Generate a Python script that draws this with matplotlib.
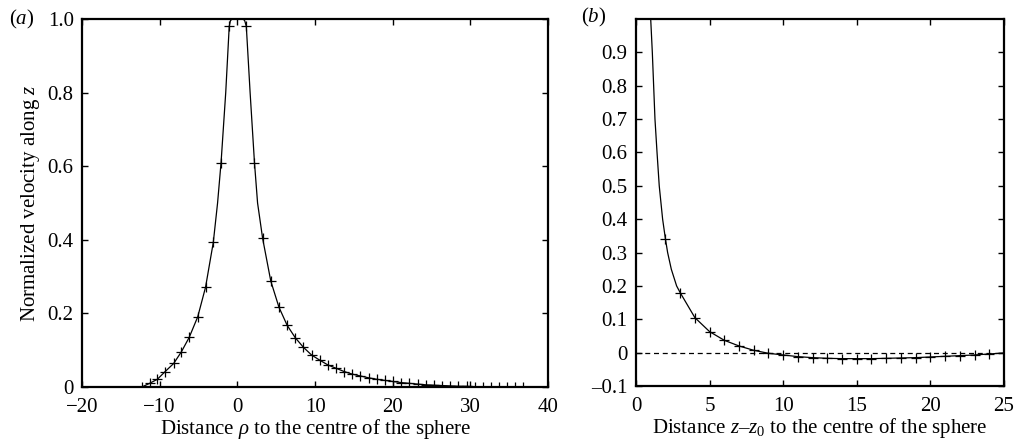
import numpy as np
import matplotlib
matplotlib.use("Agg")
import matplotlib.pyplot as plt

plt.rcParams['font.family'] = ['Liberation Serif', 'DejaVu Serif']
plt.rcParams['mathtext.fontset'] = 'custom'
plt.rcParams['mathtext.rm'] = 'Liberation Serif'
plt.rcParams['mathtext.it'] = 'Liberation Serif:italic'
plt.rcParams['axes.unicode_minus'] = True

# --- panel (a): velocity vs rho ---
rho_mark = [-12.3, -11.3, -10.3, -9.3, -8.2, -7.2, -6.2, -5.1, -4.1, -3.1, -2.1, -1.05,
            1.15, 2.2, 3.25, 4.3, 5.35, 6.4, 7.45, 8.5, 9.55, 10.6, 11.65, 12.7, 13.75,
            14.8, 15.85, 16.9, 17.95, 19.0, 20.05, 21.1, 22.15, 23.2, 24.25, 25.3,
            26.35, 27.4, 28.45, 29.5, 30.55, 31.6, 32.65, 33.7, 34.75, 35.8, 36.8]
vel_mark = [0.0, 0.010, 0.021, 0.042, 0.064, 0.096, 0.135, 0.191, 0.271, 0.393, 0.61, 0.98,
            0.98, 0.61, 0.404, 0.288, 0.217, 0.168, 0.134, 0.108, 0.087, 0.073, 0.060,
            0.051, 0.042, 0.035, 0.030, 0.025, 0.021, 0.018, 0.015, 0.012, 0.010, 0.008,
            0.006, 0.005, 0.004, 0.003, 0.002, 0.002, 0.001, 0.001, 0.0005, 0.0, 0.0,
            0.0, 0.0]

rho_curve = [-12.3, -11.3, -10.3, -9.3, -8.2, -7.2, -6.2, -5.1, -4.1, -3.1, -2.55, -2.1,
             -1.5, -1.05, -0.9, -0.7, 0.0, 0.75, 0.95, 1.15, 1.64, 2.2, 2.6, 3.25, 4.3,
             5.35, 6.4, 7.45, 8.5, 9.55, 10.6, 11.65, 12.7, 13.75, 14.8, 15.85, 16.9,
             17.95, 19.0, 20.05, 21.1, 22.15, 23.2, 24.25, 25.3, 26.35, 27.4, 28.45,
             29.5, 30.55, 31.6, 32.65, 33.7, 34.75, 35.8, 36.8]
vel_curve = [0.0, 0.010, 0.021, 0.042, 0.064, 0.096, 0.135, 0.191, 0.271, 0.393, 0.5, 0.61,
             0.8, 0.98, 0.995, 1.0, 1.0, 1.0, 0.995, 0.98, 0.8, 0.61, 0.5, 0.404, 0.288,
             0.217, 0.168, 0.134, 0.108, 0.087, 0.073, 0.060, 0.051, 0.042, 0.035, 0.030,
             0.025, 0.021, 0.018, 0.015, 0.012, 0.010, 0.008, 0.006, 0.005, 0.004, 0.003,
             0.002, 0.002, 0.001, 0.001, 0.0005, 0.0, 0.0, 0.0, 0.0]

# --- panel (b): velocity vs z - z0 ---
z_mark = list(range(2, 26))
vz_mark = [0.341, 0.18, 0.105, 0.063, 0.037, 0.020, 0.007, -0.002, -0.007, -0.012,
           -0.015, -0.017, -0.018, -0.018, -0.018, -0.017, -0.016, -0.015, -0.013,
           -0.011, -0.009, -0.007, -0.004, -0.001]

z_curve = [1.0, 1.11, 1.2, 1.29, 1.43, 1.58, 1.81, 2.0, 2.15, 2.4, 2.76] + list(range(3, 26))
vz_curve = [1.0, 0.9, 0.8, 0.7, 0.6, 0.5, 0.4, 0.341, 0.3, 0.25, 0.2] + vz_mark[1:]

fig = plt.figure(figsize=(10.14, 4.42), dpi=100)
ax1 = fig.add_axes([0.0809, 0.1244, 0.4596, 0.8326])
ax2 = fig.add_axes([0.6272, 0.1267, 0.3629, 0.8303])

fs = 15
for ax in (ax1, ax2):
    ax.tick_params(direction='in', top=True, right=True, length=4, width=1,
                   labelsize=fs)
    ax.tick_params(axis='x', pad=8)
    ax.tick_params(axis='y', pad=6)
    for s in ax.spines.values():
        s.set_linewidth(1.6)

ax1.plot(rho_curve, vel_curve, color='black', lw=0.9)
ax1.plot(rho_mark, vel_mark, ls='none', marker='+', ms=7, mew=0.9, color='black')
ax1.set_xlim(-20, 40)
ax1.set_ylim(0, 1.0)
ax1.set_xticks([-20, -10, 0, 10, 20, 30, 40])
ax1.set_yticks([0, 0.2, 0.4, 0.6, 0.8, 1.0])
ax1.set_yticklabels(['0', '0.2', '0.4', '0.6', '0.8', '1.0'])
ax1.set_xlabel(r'Distance $\rho$ to the centre of the sphere', fontsize=fs, labelpad=0)
ax1.set_ylabel(r'Normalized velocity along $z$', fontsize=fs, labelpad=4)
fig.text(0.009, 0.955, r'($a$)', fontsize=fs, va='center')

ax2.plot(z_curve, vz_curve, color='black', lw=0.9)
ax2.plot(z_mark, vz_mark, ls='none', marker='+', ms=7, mew=0.9, color='black')
ax2.axhline(0, color='black', lw=0.9, ls=(0, (4, 3)))
ax2.set_xlim(0, 25)
ax2.set_ylim(-0.1, 1.0)
ax2.set_xticks([0, 5, 10, 15, 20, 25])
yt = [-0.1, 0, 0.1, 0.2, 0.3, 0.4, 0.5, 0.6, 0.7, 0.8, 0.9]
ax2.set_yticks(yt)
ax2.set_yticklabels(['\u20130.1', '0', '0.1', '0.2', '0.3', '0.4', '0.5', '0.6', '0.7', '0.8', '0.9'])
ax2.set_xlabel(r'Distance $z$–$z_0$ to the centre of the sphere', fontsize=fs, labelpad=0)
fig.text(0.573, 0.96, r'($b$)', fontsize=fs, va='center')

fig.savefig('out.png', dpi=100)
